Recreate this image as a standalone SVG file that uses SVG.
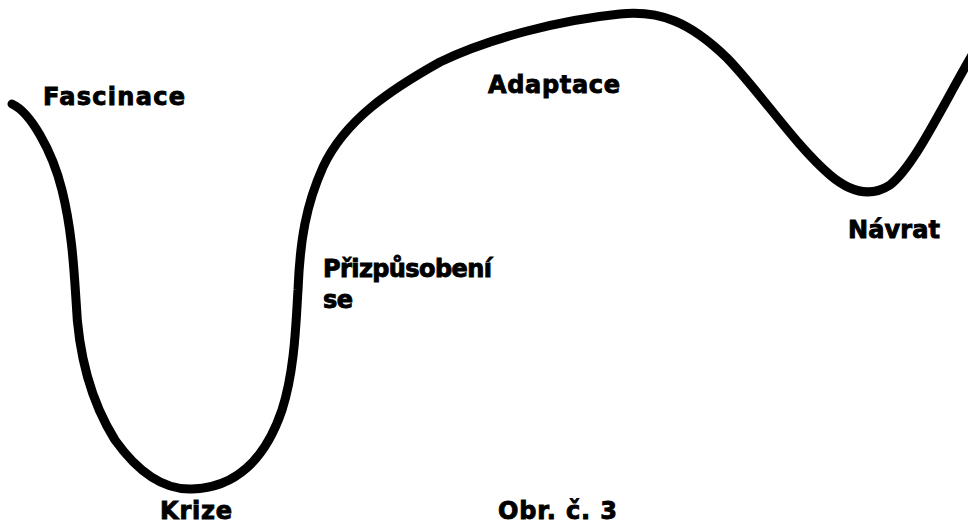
<svg xmlns="http://www.w3.org/2000/svg" width="968" height="526" viewBox="0 0 968 526">
<style>
.lbl{font-family:"DejaVu Sans","Liberation Sans",sans-serif;font-weight:bold;font-size:24px;fill:#000;stroke:#000;stroke-width:0.9}
.curve{fill:none;stroke:#000;stroke-width:9;stroke-linecap:round;stroke-linejoin:round}
</style>
<rect width="968" height="526" fill="#fff"/>
<g id="connectors">
<path class="curve" d="M12,104 C30,112 52,150 62,190 C72,230 74,270 76,300 C78,350 90,400 115,440 C140,475 165,490 192,489 C235,488 265,460 282,410 C295,370 296,320 298,290 C300,240 306,205 323,167 C345,120 390,90 440,62 C490,38 560,20 620,14 C660,10 690,22 727,58 C760,92 795,145 830,175 C850,192 870,198 890,185 C915,165 940,110 975,50"/>
</g>
<g id="fascinace"><text class="lbl" x="43" y="105" textLength="142">Fascinace</text></g>
<g id="adaptace"><text class="lbl" x="488" y="93" textLength="132">Adaptace</text></g>
<g id="navrat"><text class="lbl" x="848" y="238" textLength="92">Návrat</text></g>
<g id="prizpusobeni"><text class="lbl" x="323" y="277" textLength="169">Přizpůsobení</text><text class="lbl" x="323" y="308" textLength="30">se</text></g>
<g id="krize"><text class="lbl" x="160" y="519" textLength="72">Krize</text></g>
<g id="obr"><text class="lbl" x="498" y="519" textLength="119">Obr. č. 3</text></g>
</svg>
